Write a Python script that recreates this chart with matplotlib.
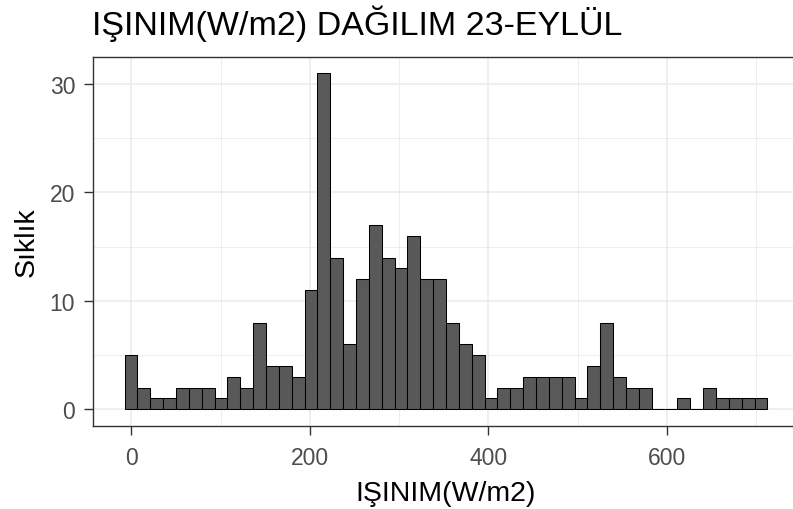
import numpy as np
import matplotlib.pyplot as plt

plt.rcParams['font.family'] = ['Liberation Sans', 'DejaVu Sans']

# histogram counts (50 bins)
counts = [5, 2, 1, 1, 2, 2, 2, 1, 3, 2,
          8, 4, 4, 3, 11, 31, 14, 6, 12, 17,
          14, 13, 16, 12, 12, 8, 6, 5, 1, 2,
          2, 3, 3, 3, 3, 1, 4, 8, 3, 2,
          2, 0, 0, 1, 0, 2, 1, 1, 1, 1]
bin_start = -7.5
bin_width = 14.4

x_major = [0, 200, 400, 600]
x_minor = [100, 300, 500, 700]
y_major = [0, 10, 20, 30]
y_minor = [5, 15, 25]

title = 'IŞINIM(W/m2) DAĞILIM 23-EYLÜL'
xlabel = 'IŞINIM(W/m2)'
ylabel = 'Sıklık'

W, H = 793, 510
fig = plt.figure(figsize=(W / 100, H / 100), dpi=100)
# panel runs past the right edge of the image, as in the reference
ax = fig.add_axes([92.5 / W, 1 - 427 / H, 707 / W, (427 - 57.5) / H])

edges = bin_start + bin_width * np.arange(len(counts))
ax.bar(edges, counts, width=bin_width, align='edge',
       color='#595959', edgecolor='black', linewidth=0.75, zorder=3)

# ggplot-like 5% expansion
lo, hi = edges[0], edges[-1] + bin_width
pad = (hi - lo) * 0.05
ax.set_xlim(lo - pad, hi + pad)
ymax = max(counts)
ax.set_ylim(-ymax * 0.05, ymax * 1.05)

ax.set_xticks(x_major)
ax.set_xticks(x_minor, minor=True)
ax.set_yticks(y_major)
ax.set_yticks(y_minor, minor=True)
ax.grid(True, which='major', color='#EBEBEB', linewidth=1.1, zorder=0)
ax.grid(True, which='minor', color='#EBEBEB', linewidth=0.6, zorder=0)
ax.set_axisbelow(True)

for s in ax.spines.values():
    s.set_color('#333333')
    s.set_linewidth(1.0)
ax.spines['right'].set_visible(False)

ax.tick_params(which='major', length=6.5, width=1.0, color='#333333',
               labelcolor='#4D4D4D', labelsize=16.5)
ax.tick_params(axis='x', which='major', pad=8)
ax.tick_params(axis='y', which='major', pad=6)
ax.tick_params(which='minor', length=0)

ax.set_title(title, loc='left', fontsize=24.5, pad=16.5, color='black')
fig.text(445.8 / W, 1 - 501 / H, xlabel, fontsize=20.5, ha='center',
         va='baseline', color='black')
fig.text(26.5 / W, 1 - 242 / H, ylabel, fontsize=20.5, rotation=90,
         ha='center', va='center', color='black')

fig.savefig('out.png', dpi=100)
